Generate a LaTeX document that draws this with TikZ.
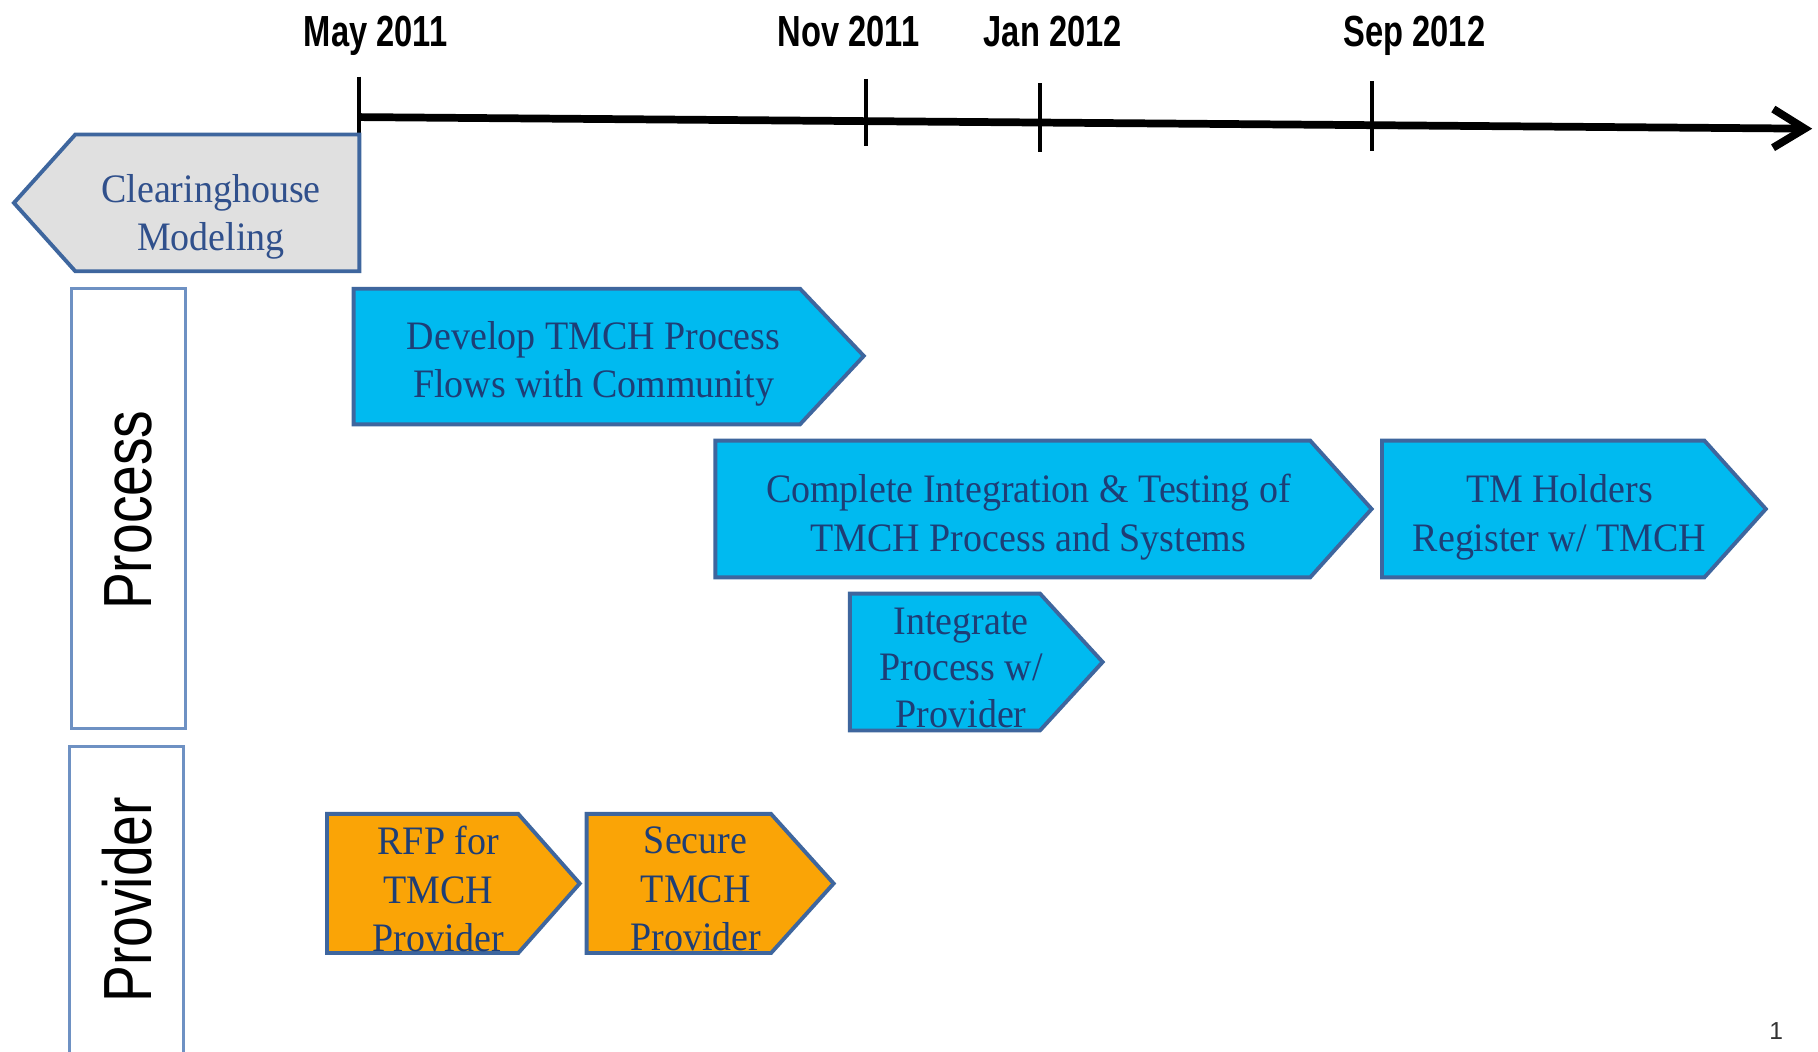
\documentclass[tikz,border=0pt]{standalone}
\usepackage{fontspec}
\setmainfont[FakeStretch=0.94]{Liberation Serif}
\newfontfamily\datefont[FakeStretch=0.75]{Liberation Sans}
\newfontfamily\lanefont[FakeStretch=0.81]{Liberation Sans}
\newfontfamily\pagefont{Liberation Sans}
\usetikzlibrary{arrows.meta}
\definecolor{boxblue}{RGB}{0,186,240}
\definecolor{boxorange}{RGB}{250,164,6}
\definecolor{boxgray}{RGB}{224,224,224}
\definecolor{edgeblue}{RGB}{62,102,158}
\definecolor{laneedge}{RGB}{110,145,195}
\definecolor{txtblue}{RGB}{30,62,118}
\definecolor{txtgray}{RGB}{48,80,140}
\tikzset{
  taskblue/.style={draw=edgeblue, line width=1.1pt, fill=boxblue, line join=miter},
  taskorange/.style={draw=edgeblue, line width=1.1pt, fill=boxorange, line join=miter},
  taskgray/.style={draw=edgeblue, line width=1.1pt, fill=boxgray, line join=miter},
  tasktext/.style={align=center, inner sep=0pt, text=txtblue,
    font=\fontsize{11.5}{13.8}\selectfont},
  lanebox/.style={draw=laneedge, line width=0.8pt, fill=white},
  lanetext/.style={rotate=90, inner sep=0pt, text=black,
    font=\lanefont\fontsize{19.4}{22}\selectfont},
  datetext/.style={anchor=base, inner sep=0pt, text=black,
    font=\datefont\bfseries\fontsize{12.4}{14}\selectfont},
  axisline/.style={line width=2.2pt, draw=black},
  tickline/.style={line width=1.1pt, draw=black}
}
\begin{document}
\begin{tikzpicture}[x=0.011594cm, y=-0.011594cm]
\useasboundingbox (0,0) rectangle (1568,907);
\clip (0,0) rectangle (1568,907);
\fill[white] (0,0) rectangle (1568,907);

% lane boxes
\draw[lanebox] (62,249) rectangle (160,628);
\draw[lanebox] (60,644) rectangle (158,930);
\node[lanetext] (proc) at (111,440) {Process};
\node[lanetext] (prov) at (110,776) {Provider};

% timeline
\coordinate (a0) at (310,101);
\coordinate (a1) at (1563,111);
\draw[axisline, -{Straight Barb[length=9pt,width=11pt]}] (a0) -- (a1);
\coordinate (t1a) at (310,66);  \coordinate (t1b) at (310,116);
\coordinate (t2a) at (747,68);  \coordinate (t2b) at (747,126);
\coordinate (t3a) at (897,72);  \coordinate (t3b) at (897,131);
\coordinate (t4a) at (1183,70); \coordinate (t4b) at (1183,130);
\draw[tickline] (t1a) -- (t1b);
\draw[tickline] (t2a) -- (t2b);
\draw[tickline] (t3a) -- (t3b);
\draw[tickline] (t4a) -- (t4b);
\node[datetext] (may) at (324,40) {May 2011};
\node[datetext] (nov) at (732,40) {Nov 2011};
\node[datetext] (jan) at (908,40) {Jan 2012};
\node[datetext] (sep) at (1220,40) {Sep 2012};

% clearinghouse (left-pointing)
\draw[taskgray] (310,116) -- (310,234) -- (65,234) -- (12,175) -- (65,116) -- cycle;
\node[tasktext, text=txtgray] (clear) at (182,187) {Clearinghouse\\Modeling};

% process tasks
\draw[taskblue] (305,249) -- (690,249) -- (745,307) -- (690,366) -- (305,366) -- cycle;
\node[tasktext] (dev) at (512,314) {Develop TMCH Process\\Flows with Community};

\draw[taskblue] (617,380) -- (1130,380) -- (1183,439) -- (1130,498) -- (617,498) -- cycle;
\node[tasktext] (comp) at (887,446) {Complete Integration \& Testing of\\TMCH Process and Systems};

\draw[taskblue] (1192,380) -- (1470,380) -- (1523,439) -- (1470,498) -- (1192,498) -- cycle;
\node[tasktext] (tmh) at (1345,446) {TM Holders\\Register w/ TMCH};

\draw[taskblue] (733,512) -- (897,512) -- (951,571) -- (897,630) -- (733,630) -- cycle;
\node[tasktext, font=\fontsize{11.5}{13.3}\selectfont] (integ) at (829,576) {Integrate\\Process w/\\Provider};

% provider tasks
\draw[taskorange] (282,702) -- (447,702) -- (500,762) -- (447,822) -- (282,822) -- cycle;
\node[tasktext] (rfp) at (378,767) {RFP for\\TMCH\\Provider};

\draw[taskorange] (506,702) -- (665,702) -- (719,762) -- (665,822) -- (506,822) -- cycle;
\node[tasktext] (secure) at (600,767) {Secure\\TMCH\\Provider};

% page number
\node[inner sep=0pt, text=black!80, font=\pagefont\fontsize{7}{8}\selectfont] (pnum) at (1532,889) {1};
\end{tikzpicture}
\end{document}
